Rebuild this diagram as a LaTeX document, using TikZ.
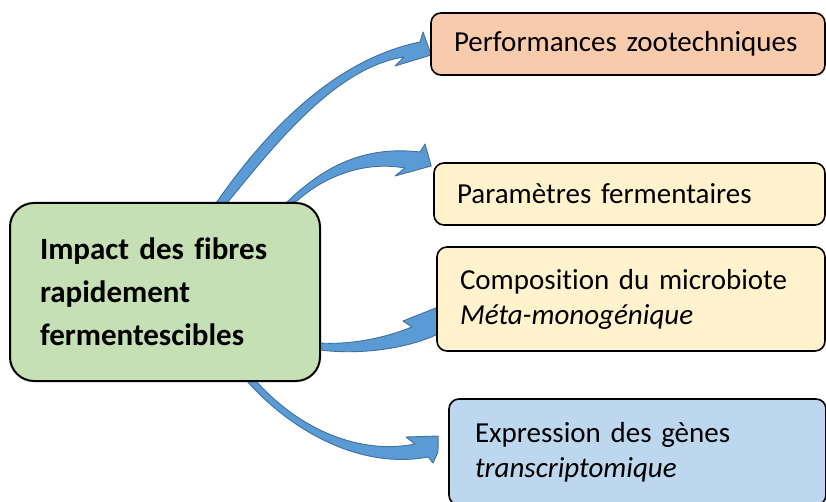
\documentclass[tikz,border=0pt]{standalone}
\usepackage{fontspec}
\setmainfont{Carlito}[Ligatures=CommonOff]
\usetikzlibrary{calc,backgrounds}
\definecolor{fibrevert}{HTML}{C5E0B4}
\definecolor{perfsaumon}{HTML}{F8CBAD}
\definecolor{fermcreme}{HTML}{FFF2CC}
\definecolor{exprbleu}{HTML}{BDD7EE}
\definecolor{flechebleu}{HTML}{5B9BD5}
\definecolor{flechebord}{HTML}{41719C}

\begin{document}
\begin{tikzpicture}[x=1pt,y=-1pt,
  impactbox/.style={draw=black,line width=2pt,rounded corners=24pt,
    fill=fibrevert,minimum width=310pt,minimum height=178pt,
    text width=250pt,inner xsep=30pt,align=left,
    font=\fontsize{31}{43}\selectfont\bfseries},
  effetbox/.style={draw=black,line width=1.6pt,rounded corners=10pt,
    minimum height=62pt,align=left,inner xsep=23pt,
    font=\fontsize{29}{35}\selectfont},
  fleche/.style={fill=flechebleu,draw=flechebord,line width=0.9pt,
    line join=round}
]
  \useasboundingbox (0,0) rectangle (826,502);

  \node[impactbox] (impact) at (165,292)
    {Impact des fibres\\rapidement\\fermentescibles};
  \node[effetbox,fill=perfsaumon,text width=348pt] (perf) at (628,44)
    {Performances zootechniques};
  \node[effetbox,fill=fermcreme,text width=345pt] (param) at (629.5,194)
    {Paramètres fermentaires};
  \node[effetbox,fill=fermcreme,text width=342pt,minimum height=104pt]
    (comp) at (631,299)
    {Composition du microbiote\\\textit{Méta-monogénique}};
  \node[effetbox,fill=exprbleu,text width=325pt,inner xsep=26pt,
    minimum height=106pt] (expr) at (637.5,452)
    {Expression des gènes\\\textit{transcriptomique}};

  % fleches courbes
  \begin{scope}[on background layer]
    \draw[fleche] ($(impact.north west)+(207,1)$)
      .. controls (252,152) and (322,62) .. (420,42) -- (423,32)
      -- ($(perf.west)+(1,11)$) -- (395,66) -- (404,57)
      .. controls (332,68) and (268,154) .. ($(impact.north west)+(218,1)$)
      -- cycle;
    \draw[fleche] ($(impact.north west)+(277,1)$)
      .. controls (320,170) and (360,145) .. (420,152) -- (425,144)
      -- ($(param.west)+(-2,-28)$) -- (395,176) -- (405,168)
      .. controls (360,160) and (320,180) .. ($(impact.north east)+(-24,-1)$)
      -- cycle;
    \draw[fleche] ($(impact.east)+(-1,51)$)
      .. controls (350,345) and (385,338) .. (412,327) -- (403,321)
      -- ($(comp.west)+(2,8)$) -- (438,334)
      .. controls (400,352) and (350,354) .. ($(impact.east)+(-1,58)$)
      -- cycle;
    \draw[fleche] ($(impact.south west)+(238,-1)$)
      .. controls (290,430) and (360,470) .. (428,457) -- (433,463)
      -- (438,452) -- ($(expr.west)+(-10,-16)$) -- (406,437) -- (415,444)
      .. controls (360,455) and (300,430) .. ($(impact.south west)+(247,-1)$)
      -- cycle;
  \end{scope}
\end{tikzpicture}
\end{document}
